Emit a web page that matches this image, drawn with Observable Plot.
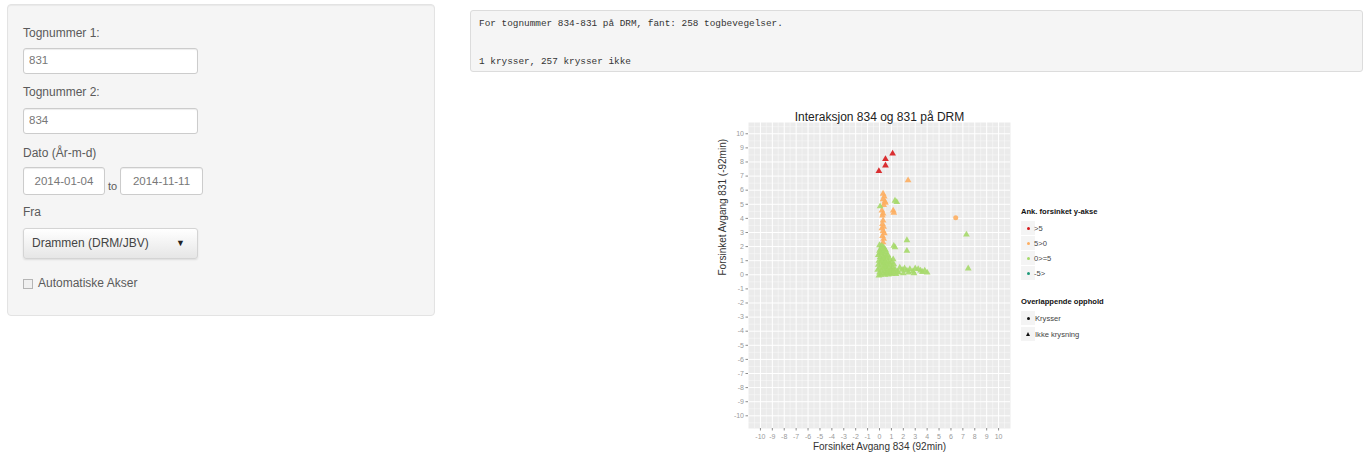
<!DOCTYPE html>
<html>
<head>
<meta charset="utf-8">
<script src="https://cdn.jsdelivr.net/npm/d3@7"></script>
<script src="https://cdn.jsdelivr.net/npm/@observablehq/plot@0.6"></script>
<style>
  html, body { margin: 0; padding: 0; background: #fff; }
  body { width: 1365px; height: 459px; position: relative; overflow: hidden; font-family: "Liberation Sans", Arial, sans-serif; }
  .abs { position: absolute; }
  .well { left: 7px; top: 4px; width: 426px; height: 310px; background: #f5f5f5; border: 1px solid #e3e3e3; border-radius: 4px; box-shadow: inset 0 1px 1px rgba(0,0,0,0.05); }
  .lbl { font-size: 12px; color: #5a5a5a; line-height: 14px; }
  .inp { background: #fff; border: 1px solid #ccc; border-radius: 3px; box-shadow: inset 0 1px 1px rgba(0,0,0,0.075); font-size: 11.5px; color: #777; box-sizing: border-box; line-height: 23px; padding-left: 5px; }
  .date { text-align: center; padding-left: 0; }
  .sel { background: linear-gradient(#ffffff, #e6e6e6); border: 1px solid #d4d4d4; border-radius: 3px; box-shadow: 0 1px 2px rgba(0,0,0,0.1); font-size: 12px; color: #444; box-sizing: border-box; line-height: 28px; padding-left: 8px; }
  .pre { left: 470px; top: 10px; width: 891px; height: 60px; background: #f5f5f5; border: 1px solid #dcdcdc; border-radius: 3px; font-family: "Liberation Mono", "DejaVu Sans Mono", monospace; font-size: 9.4px; color: #333; }
  .leg { font-family: "Liberation Sans", Arial, sans-serif; font-size: 7.6px; color: #444; }
  .legT { font-weight: bold; font-size: 7.6px; color: #111; }
</style>
</head>
<body>
<div class="abs well"></div>
<div class="abs lbl" style="left:23px;top:26px;">Tognummer 1:</div>
<div class="abs inp" style="left:23px;top:48px;width:175px;height:26px;">831</div>
<div class="abs lbl" style="left:23px;top:85px;">Tognummer 2:</div>
<div class="abs inp" style="left:23px;top:108px;width:175px;height:26px;">834</div>
<div class="abs lbl" style="left:23px;top:146px;">Dato (År-m-d)</div>
<div class="abs inp date" style="left:23px;top:167px;width:82px;height:28px;line-height:26px;">2014-01-04</div>
<div class="abs lbl" style="left:108px;top:179px;font-size:11px;">to</div>
<div class="abs inp date" style="left:120px;top:167px;width:83px;height:28px;line-height:26px;">2014-11-11</div>
<div class="abs lbl" style="left:23px;top:205px;">Fra</div>
<div class="abs sel" style="left:23px;top:228px;width:175px;height:31px;">Drammen (DRM/JBV)<span class="abs" style="left:152px;top:0px;font-size:9px;color:#222;">▼</span></div>
<div class="abs" style="left:23px;top:279px;width:8px;height:8px;border:1px solid #b5b5b5;background:#f0f0f0;"></div>
<div class="abs lbl" style="left:38px;top:276px;">Automatiske Akser</div>

<div class="abs pre"></div>
<div class="abs pre" style="border:none;background:none;left:479px;top:18px;height:auto;width:auto;white-space:pre;">For tognummer 834-831 på DRM, fant: 258 togbevegelser.</div>
<div class="abs pre" style="border:none;background:none;left:479px;top:56px;height:auto;width:auto;white-space:pre;">1 krysser, 257 krysser ikke</div>

<div id="chart" class="abs" style="left:700px;top:100px;"></div>
<div id="legend" class="abs" style="left:1018px;top:205px;width:95px;height:140px;"></div>

<script>
// ---- data ----
const categories = [">5", "5>0", "0>=5", "-5>"];
const catColors = ["#d7191c", "#fdae61", "#a6d96a", "#1f9a7a"];
const overlapKinds = ["Krysser", "Ikke krysning"];
const xTicks = [-10,-9,-8,-7,-6,-5,-4,-3,-2,-1,0,1,2,3,4,5,6,7,8,9,10];
const yTicks = [-10,-9,-8,-7,-6,-5,-4,-3,-2,-1,0,1,2,3,4,5,6,7,8,9,10];

// delays: train 834 (x) and train 831 (y)
const redX = [1.1, 0.5, 0.5, -0.05];
const redY = [8.6, 8.2, 7.75, 7.35];

const orangeX = [2.4, 0.3, 0.4, 0.3, 0.45, 0.35, 0.5, 0.2, 0.3, 0.25, 1.15, 1.2, 0.3, 0.25, 0.35, 0.2, 0.3, 0.4, 0.25, 0.35, 0.3];
const orangeY = [6.7, 5.75, 5.55, 5.35, 5.2, 4.95, 5.1, 4.55, 4.35, 4.2, 4.55, 4.4, 3.85, 3.6, 3.4, 3.3, 3.1, 2.95, 2.75, 2.55, 2.3];

const greenX = [0.0, 0.2, 0.35, 0.1, 0.45, 0.0, 0.25, 0.55, 0.15, 0.4, -0.1, 0.7, 0.3, 0.05, 0.55, 0.85, 0.2, -0.05, 0.45, 0.7,
  1.0, 0.1, 0.35, 0.6, 0.9, -0.1, 0.2, 0.5, 0.75, 1.1, 0.0, 0.3, 0.6, 0.95, 1.3, -0.15, 0.15, 0.45, 0.8, 1.15,
  0.0, 0.3, 0.6, 0.9, 1.25, 1.5, 0.1, 0.45, 0.75, 1.05, -0.05, 1.4, 0.25, 0.5, 0.05, 0.6, 0.35, 0.15, 0.8, 0.5,
  1.2, 0.4, 0.65, 1.0, 1.7, 1.9, 2.1, 2.3, 2.55, 2.8, 3.0, 3.25, 3.45, 3.6, 3.8, 4.0, 1.6, 2.0, 2.45, 2.9,
  1.15, 1.3, 2.3, 2.3, 1.2, 0.05, 1.45, 1.3, 7.3, 7.45];
const greenY = [2.1, 2.05, 1.95, 1.85, 1.8, 1.7, 1.65, 1.6, 1.5, 1.45, 1.4, 1.4, 1.3, 1.25, 1.2, 1.15, 1.1, 1.0, 1.0, 0.95,
  0.9, 0.85, 0.8, 0.75, 0.7, 0.7, 0.65, 0.6, 0.55, 0.55, 0.5, 0.45, 0.4, 0.4, 0.4, 0.35, 0.3, 0.25, 0.25, 0.3,
  0.15, 0.1, 0.1, 0.12, 0.15, 0.2, 0.0, 0.0, 0.02, 0.05, -0.05, 0.05, 1.9, 1.75, 1.55, 1.3, 1.15, 0.95, 0.85, 0.9,
  0.75, 0.55, 0.2, 0.25, 0.5, 0.35, 0.45, 0.3, 0.4, 0.25, 0.45, 0.4, 0.3, 0.2, 0.3, 0.15, 0.15, 0.1, 0.15, 0.1,
  1.1, 1.95, 2.45, 1.7, 2.05, 4.85, 5.15, 5.25, 2.85, 0.45];

const crossX = [6.4];
const crossY = [4.05];
const crossCat = ["5>0"];

// ---- build table ----
const rows = [];
redX.forEach((x, i) => rows.push({x, y: redY[i], cat: ">5", ov: "Ikke krysning"}));
orangeX.forEach((x, i) => rows.push({x, y: orangeY[i], cat: "5>0", ov: "Ikke krysning"}));
greenX.forEach((x, i) => rows.push({x, y: greenY[i], cat: "0>=5", ov: "Ikke krysning"}));
crossX.forEach((x, i) => rows.push({x, y: crossY[i], cat: crossCat[i], ov: "Krysser"}));

const minorX = xTicks.slice(0, -1).map(v => v + 0.5).concat([-10.5, 10.5]);
const minorY = yTicks.slice(0, -1).map(v => v + 0.5).concat([-10.5, 10.5]);
const fmt = d => d < 0 ? "-" + Math.abs(d) : String(d);

const chart = Plot.plot({
  width: 320,
  height: 359,
  marginLeft: 48,
  marginRight: 10,
  marginTop: 22,
  marginBottom: 31,
  style: {background: "transparent", fontFamily: "Liberation Sans, Arial, sans-serif", overflow: "visible"},
  x: {domain: [-11, 11]},
  y: {domain: [-10.9, 10.8]},
  color: {domain: categories, range: catColors},
  symbol: {domain: overlapKinds, range: ["circle", "triangle"]},
  marks: [
    Plot.frame({fill: "#ebebeb", stroke: null}),
    Plot.gridX(minorX, {stroke: "#fafafa", strokeOpacity: 1, strokeWidth: 0.5}),
    Plot.gridY(minorY, {stroke: "#fafafa", strokeOpacity: 1, strokeWidth: 0.5}),
    Plot.gridX(xTicks, {stroke: "#ffffff", strokeOpacity: 1, strokeWidth: 1}),
    Plot.gridY(yTicks, {stroke: "#ffffff", strokeOpacity: 1, strokeWidth: 1}),
    Plot.axisX({ticks: xTicks, tickSize: 2.5, tickPadding: 3, tickFormat: fmt, fontSize: 7, stroke: "#8c8c8c", fill: "#9a9a9a", label: null}),
    Plot.axisY({ticks: yTicks, tickSize: 2.5, tickPadding: 2, tickFormat: fmt, fontSize: 7, stroke: "#8c8c8c", fill: "#9a9a9a", label: null}),
    Plot.dot(rows, {x: "x", y: "y", fill: "cat", symbol: "ov", r: 2.5, stroke: null, fillOpacity: 0.9}),
    Plot.text(["Interaksjon 834 og 831 på DRM"], {frameAnchor: "top", dy: -10, fontSize: 12, fill: "#222"}),
    Plot.text(["Forsinket Avgang 834 (92min)"], {frameAnchor: "bottom", dy: 21, fontSize: 10, fill: "#333"}),
    Plot.text(["Forsinket Avgang 831 (-92min)"], {frameAnchor: "left", dx: -26, rotate: -90, fontSize: 10, fill: "#333"})
  ]
});
document.getElementById("chart").appendChild(chart);

// ---- legend (HTML) ----
const leg = document.getElementById("legend");
let html = "";
html += `<div class="abs legT" style="left:3px;top:2px;">Ank. forsinket y-akse</div>`;
categories.forEach((c, i) => {
  const top = 16 + i * 15;
  html += `<div class="abs" style="left:3px;top:${top}px;width:14px;height:14px;background:#f4f4f4;"></div>`;
  html += `<div class="abs" style="left:8.5px;top:${top + 5.5}px;width:3.5px;height:3.5px;border-radius:50%;background:${catColors[i]};"></div>`;
  html += `<div class="abs leg" style="left:16px;top:${top + 2.5}px;">${c.replace(">", "&gt;")}</div>`;
});
html += `<div class="abs legT" style="left:3px;top:92px;">Overlappende opphold</div>`;
overlapKinds.forEach((c, i) => {
  const top = 106 + i * 16;
  html += `<div class="abs" style="left:3px;top:${top}px;width:14px;height:14px;background:#f4f4f4;"></div>`;
  if (i === 0) html += `<div class="abs" style="left:8.5px;top:${top + 5.5}px;width:3.5px;height:3.5px;border-radius:50%;background:#111;"></div>`;
  else html += `<div class="abs" style="left:7.5px;top:${top + 4.5}px;width:0;height:0;border-left:2.5px solid transparent;border-right:2.5px solid transparent;border-bottom:4.5px solid #111;"></div>`;
  html += `<div class="abs leg" style="left:17px;top:${top + 2.5}px;">${c}</div>`;
});
leg.innerHTML = html;
</script>
</body>
</html>
